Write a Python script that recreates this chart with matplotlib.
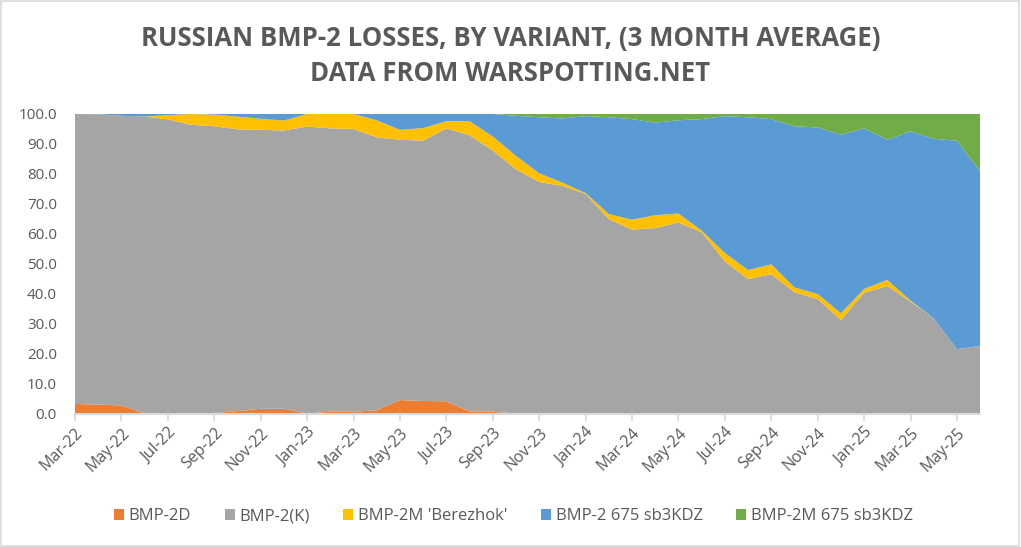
import matplotlib.pyplot as plt
from matplotlib.patches import Patch, Rectangle

plt.rcParams['font.family'] = ['Open Sans', 'DejaVu Sans']

# months, Mar-22 .. Jun-25
months = ["Mar-22", "Apr-22", "May-22", "Jun-22", "Jul-22", "Aug-22", "Sep-22", "Oct-22",
          "Nov-22", "Dec-22", "Jan-23", "Feb-23", "Mar-23", "Apr-23", "May-23", "Jun-23",
          "Jul-23", "Aug-23", "Sep-23", "Oct-23", "Nov-23", "Dec-23", "Jan-24", "Feb-24",
          "Mar-24", "Apr-24", "May-24", "Jun-24", "Jul-24", "Aug-24", "Sep-24", "Oct-24",
          "Nov-24", "Dec-24", "Jan-25", "Feb-25", "Mar-25", "Apr-25", "May-25", "Jun-25"]

bmp2d = [3.2, 3.0, 2.7, 0.1, 0.0, 0.0, 0.2, 0.8, 1.6, 1.6, 0.0, 0.6, 0.6, 1.1, 4.5, 4.2,
         4.1, 0.6, 0.6, 0.0, 0.0, 0.0, 0.0, 0.0, 0.0, 0.0, 0.0, 0.0, 0.0, 0.0, 0.0, 0.0,
         0.0, 0.0, 0.0, 0.0, 0.0, 0.0, 0.0, 0.0]
bmp2k = [96.8, 96.9, 96.7, 99.1, 98.2, 96.4, 95.7, 94.1, 93.1, 92.9, 95.8, 94.6, 94.4, 91.1,
         86.9, 86.9, 91.1, 92.3, 87.2, 81.5, 77.3, 76.0, 73.3, 64.9, 61.4, 61.9, 63.8, 60.5,
         50.8, 44.9, 46.5, 40.5, 38.2, 31.2, 40.3, 42.6, 37.3, 31.8, 21.5, 22.6]
berezhok = [0.0, 0.0, 0.0, 0.0, 1.4, 3.6, 3.9, 4.2, 3.7, 3.3, 4.2, 4.8, 5.0, 5.7, 3.3, 4.2,
            2.4, 4.7, 4.7, 4.5, 2.9, 1.1, 0.3, 1.7, 3.3, 4.3, 3.0, 0.6, 2.8, 3.0, 3.3, 1.6,
            1.7, 2.3, 1.3, 2.0, 0.4, 0.0, 0.0, 0.0]
sb675 = [0.0, 0.1, 0.6, 0.8, 0.4, 0.0, 0.2, 0.9, 1.6, 2.2, 0.0, 0.0, 0.0, 2.1, 5.3, 4.7,
         2.4, 2.4, 7.5, 13.4, 18.7, 21.4, 25.7, 32.3, 33.6, 30.9, 31.1, 37.2, 45.7, 51.0,
         48.5, 53.8, 55.6, 59.6, 53.6, 46.8, 56.5, 59.9, 69.6, 58.3]
m675 = [0.0, 0.0, 0.0, 0.0, 0.0, 0.0, 0.0, 0.0, 0.0, 0.0, 0.0, 0.0, 0.0, 0.0, 0.0, 0.0,
        0.0, 0.0, 0.0, 0.6, 1.1, 1.5, 0.7, 1.1, 1.7, 2.9, 2.1, 1.7, 0.7, 1.1, 1.7, 4.1,
        4.5, 6.9, 4.8, 8.6, 5.8, 8.3, 8.9, 19.1]

labels = ["BMP-2D", "BMP-2(K)", "BMP-2M 'Berezhok'", "BMP-2 675 sb3KDZ", "BMP-2M 675 sb3KDZ"]
colors = ["#ED7D31", "#A5A5A5", "#FFC000", "#5B9BD5", "#70AD47"]
text_col = "#595959"

fig = plt.figure(figsize=(10.21, 5.47), dpi=100)
ax = fig.add_axes([0.0735, 0.244, 0.8865, 0.5476])

x = list(range(len(months)))
ax.stackplot(x, bmp2d, bmp2k, berezhok, sb675, m675, colors=colors, labels=labels, linewidth=0)

ax.set_xlim(0, len(months) - 1)
ax.set_ylim(0, 100)
ax.set_yticks(range(0, 101, 10))
ax.set_yticklabels([f"{v:.1f}" for v in range(0, 101, 10)], fontsize=11, color=text_col)
ax.set_xticks(x[::2])
ax.set_xticklabels(months[::2], rotation=45, ha="right", rotation_mode="anchor",
                   fontsize=11.5, color=text_col)
ax.tick_params(axis="y", length=0, pad=13)
ax.tick_params(axis="x", length=5, color="#D9D9D9", width=1.2, pad=3)
for s in ["top", "right", "left"]:
    ax.spines[s].set_visible(False)
ax.spines["bottom"].set_color("#D9D9D9")
ax.spines["bottom"].set_linewidth(1.5)

fig.text(0.5, 0.916, "RUSSIAN BMP-2 LOSSES, BY VARIANT, (3 MONTH AVERAGE)",
         ha="center", va="baseline", fontsize=18.5, fontweight="bold", color=text_col)
fig.text(0.5, 0.852, "DATA FROM WARSPOTTING.NET",
         ha="center", va="baseline", fontsize=18.5, fontweight="bold", color=text_col)

handles = [Patch(facecolor=c, label=l) for c, l in zip(colors, labels)]
fig.legend(handles=handles, loc="center", bbox_to_anchor=(0.503, 0.056), ncol=5, frameon=False,
           fontsize=12, handlelength=0.6, handleheight=0.6, handletextpad=0.3, columnspacing=2.0,
           labelcolor=text_col)

fig.patches.append(Rectangle((0.001, 0.002), 0.997, 0.996, transform=fig.transFigure,
                             fill=False, edgecolor="#D9D9D9", linewidth=1.2))

fig.savefig("out.png", dpi=100)
